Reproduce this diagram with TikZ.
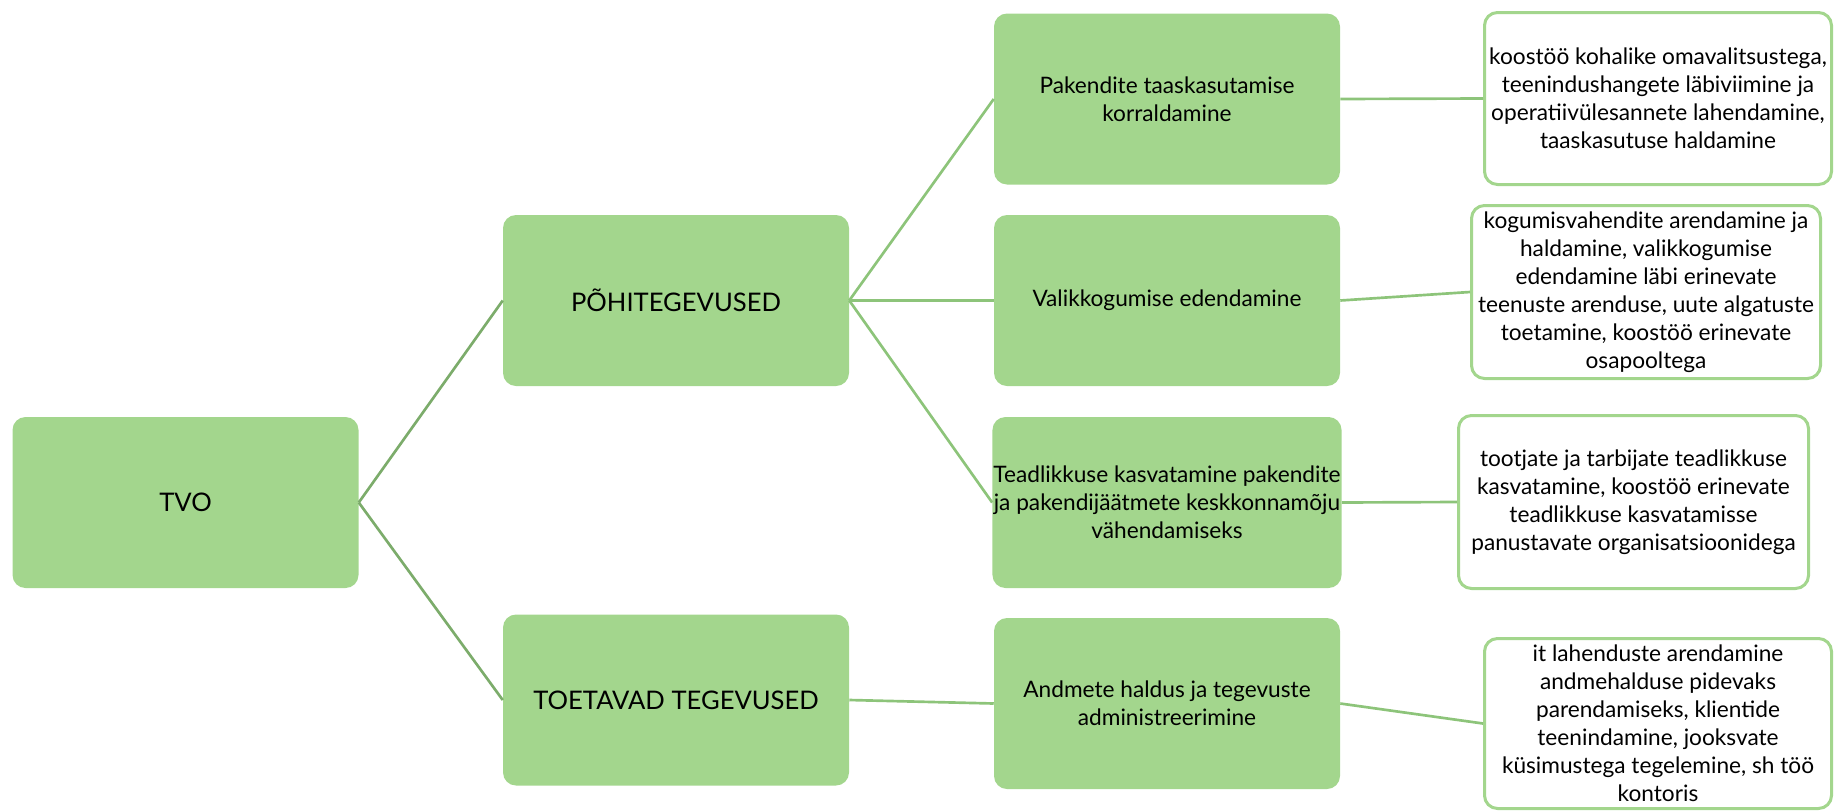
\documentclass[tikz,border=0pt]{standalone}
\usepackage{fontspec}
\setmainfont{Lato}
\definecolor{boxgreen}{RGB}{163,214,141}
\definecolor{linegreen}{RGB}{141,196,122}
\definecolor{darkline}{RGB}{124,172,107}

\begin{document}
\begin{tikzpicture}[x=0.75pt,y=0.75pt,yscale=-1,xscale=1,
  greenbox/.style={rectangle, rounded corners=9.75pt, fill=boxgreen, minimum width=259.5pt, minimum height=128.25pt, align=center, inner sep=0.75pt, font=\fontsize{17}{21}\selectfont},
  whitebox/.style={rectangle, rounded corners=9.75pt, draw=boxgreen, line width=2.25pt, fill=white, align=center, inner sep=0.75pt, font=\fontsize{17}{21}\selectfont},
  bigtext/.style={font=\fontsize{19.2}{23}\selectfont},
  link/.style={draw=linegreen, line width=2pt}]
%set diagram left start at 0, and has height of 811
\useasboundingbox (0,0) rectangle (1834,811);

%Shape: Rounded Rect [id:tvo]
\node (tvo) at (185.5,502.5) [greenbox,bigtext] {TVO};
%Shape: Rounded Rect [id:pohi]
\node (pohi) at (676,300.5) [greenbox,bigtext] {PÕHITEGEVUSED};
%Shape: Rounded Rect [id:toet]
\node (toet) at (676,700) [greenbox,bigtext] {TOETAVAD TEGEVUSED};

%Shape: Rounded Rect [id:pak]
\node (pak) at (1167,99) [greenbox] {Pakendite taaskasutamise\\korraldamine};
%Shape: Rounded Rect [id:val]
\node (val) at (1167,300.5) [greenbox] {Valikkogumise edendamine};
%Shape: Rounded Rect [id:tead]
\node (tead) at (1167,502.5) [greenbox] {Teadlikkuse kasvatamine pakendite\\ja pakendijäätmete keskkonnamõju\\vähendamiseks};
%Shape: Rounded Rect [id:andm]
\node (andm) at (1167,703.5) [greenbox] {Andmete haldus ja tegevuste\\administreerimine};

%Shape: Rounded Rect [id:wpak]
\node (wpak) at (1658,98.5) [whitebox, minimum width=260.25pt, minimum height=129pt] {koostöö kohalike omavalitsustega,\\teenindushangete läbiviimine ja\\operatiivülesannete lahendamine,\\taaskasutuse haldamine};
%Shape: Rounded Rect [id:wval]
\node (wval) at (1646,292) [whitebox, minimum width=261.75pt, minimum height=129.75pt] {kogumisvahendite arendamine ja\\haldamine, valikkogumise\\edendamine läbi erinevate\\teenuste arenduse, uute algatuste\\toetamine, koostöö erinevate\\osapooltega};
%Shape: Rounded Rect [id:wtead]
\node (wtead) at (1633.5,502) [whitebox, minimum width=262.5pt, minimum height=129.75pt] {tootjate ja tarbijate teadlikkuse\\kasvatamine, koostöö erinevate\\teadlikkuse kasvatamisse\\panustavate organisatsioonidega};
%Shape: Rounded Rect [id:wandm]
\node (wandm) at (1658,723.5) [whitebox, minimum width=260.25pt, minimum height=127.5pt] {it lahenduste arendamine\\andmehalduse pidevaks\\parendamiseks, klientide\\teenindamine, jooksvate\\küsimustega tegelemine, sh töö\\kontoris};

%Straight Lines
\draw [link, draw=darkline] (tvo.east) -- (pohi.west);
\draw [link, draw=darkline] (tvo.east) -- (toet.west);
\draw [link] (pohi.east) -- (pak.west);
\draw [link] (pohi.east) -- (val.west);
\draw [link] (pohi.east) -- (tead.west);
\draw [link] (toet.east) -- (andm.west);
\draw [link] (pak.east) -- (wpak.west);
\draw [link] (val.east) -- (wval.west);
\draw [link] (tead.east) -- (wtead.west);
\draw [link] (andm.east) -- (wandm.west);

\end{tikzpicture}
\end{document}
